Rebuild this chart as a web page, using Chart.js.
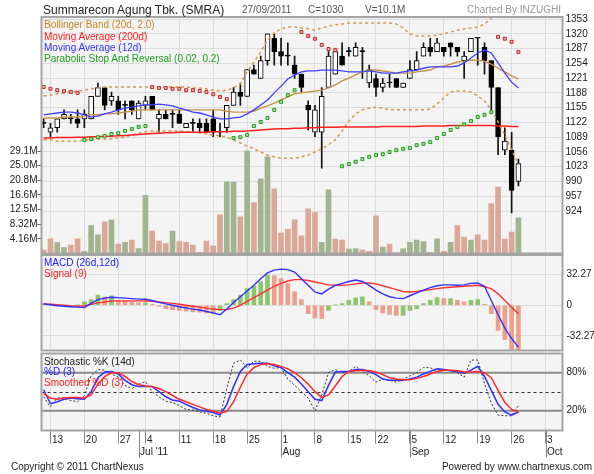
<!DOCTYPE html>
<html>
<head>
<meta charset="utf-8">
<script src="https://cdn.jsdelivr.net/npm/chart.js@4.4.1/dist/chart.umd.min.js"></script>
<style>
body { margin: 0; background: #fff; font-family: 'Liberation Sans', Arial, sans-serif; }
#wrap { position: relative; width: 594px; height: 474px; overflow: hidden; }
canvas { position: absolute; left: 0; }
.t { position: absolute; white-space: nowrap; font-size: 10px; line-height: 12px; }
</style>
</head>
<body>
<div id="wrap">
  <canvas id="cPrice" width="594" height="266" style="top:0px"></canvas>
  <canvas id="cMacd" width="594" height="120" style="top:243px"></canvas>
  <canvas id="cStoch" width="594" height="133" style="top:341px"></canvas>

  <div class="t" style="left:43px;top:2px;font-size:12px;line-height:16px;color:#222">Summarecon Agung Tbk. (SMRA)</div>
  <div class="t" style="left:242px;top:4px;color:#555">27/09/2011</div>
  <div class="t" style="left:308px;top:4px;color:#555">C=1030</div>
  <div class="t" style="left:365px;top:4px;color:#555">V=10.1M</div>
  <div class="t" style="left:467px;top:4px;color:#999">Charted By INZUGHI</div>

  <div class="t" style="left:44px;top:19px;color:#c8862a">Bollinger Band (20d, 2.0)</div>
  <div class="t" style="left:44px;top:30.5px;color:#ff2020">Moving Average (200d)</div>
  <div class="t" style="left:44px;top:41.5px;color:#3535ff">Moving Average (12d)</div>
  <div class="t" style="left:44px;top:53px;color:#1e9e1e">Parabolic Stop And Reversal (0.02, 0.2)</div>

  <div class="t" style="left:44px;top:257.3px;color:#2020ff">MACD (26d,12d)</div>
  <div class="t" style="left:44px;top:268px;color:#ff2020">Signal (9)</div>

  <div class="t" style="left:44px;top:355.7px;color:#222">Stochastic %K (14d)</div>
  <div class="t" style="left:44px;top:366.3px;color:#2020ff">%D (3)</div>
  <div class="t" style="left:44px;top:377.3px;color:#ff2020">Smoothed %D (3)</div>

  <div class="t" style="left:11px;top:461px;color:#222">Copyright &copy; 2011 ChartNexus</div>
  <div class="t" style="right:2px;top:461px;color:#222">Powered by www.chartnexus.com</div>
</div>

<script>
// trading days shown (Jun 10 .. Sep 27, 2011)
const days = [
  '2011-06-10','2011-06-13','2011-06-14','2011-06-15','2011-06-16','2011-06-17','2011-06-20','2011-06-21','2011-06-22','2011-06-23',
  '2011-06-24','2011-06-27','2011-06-28','2011-06-30','2011-07-01','2011-07-04','2011-07-05','2011-07-06','2011-07-07','2011-07-08',
  '2011-07-11','2011-07-12','2011-07-13','2011-07-14','2011-07-15','2011-07-18','2011-07-19','2011-07-20','2011-07-21','2011-07-22',
  '2011-07-25','2011-07-26','2011-07-27','2011-07-28','2011-07-29','2011-08-01','2011-08-02','2011-08-03','2011-08-04','2011-08-05',
  '2011-08-08','2011-08-09','2011-08-10','2011-08-11','2011-08-12','2011-08-15','2011-08-16','2011-08-18','2011-08-19','2011-08-22',
  '2011-08-23','2011-08-24','2011-08-25','2011-08-26','2011-09-05','2011-09-06','2011-09-07','2011-09-08','2011-09-09','2011-09-12',
  '2011-09-13','2011-09-14','2011-09-15','2011-09-16','2011-09-19','2011-09-20','2011-09-21','2011-09-22','2011-09-23','2011-09-26',
  '2011-09-27'
];

const open = [1120,1100,1110,1130,1130,1130,1130,1130,1180,1200, 1170,1170,1160,1170,1130,1160,1180,1130,1140,1140,
  1140,1110,1120,1120,1120,1130,1100,1110,1160,1190, 1180,1240,1220,1260,1310,1280,1270,1250,1230,1160,
  1100,1100,1200,1230,1270,1280,1270,1280,1210,1220, 1200,1210,1220,1200,1220,1240,1270,1290,1280,1290,
  1300,1290,1260,1280,1310,1290,1260,1200,1060,1060, 990];
const high = [1130,1120,1130,1150,1140,1150,1150,1180,1210,1200, 1190,1180,1170,1170,1170,1180,1180,1150,1150,1150,
  1150,1120,1130,1130,1130,1150,1120,1160,1200,1210, 1240,1250,1270,1320,1320,1310,1300,1270,1230,1170,
  1160,1200,1280,1280,1300,1290,1300,1290,1250,1230, 1220,1230,1220,1210,1260,1280,1300,1310,1310,1290,
  1300,1290,1280,1310,1310,1300,1260,1200,1110,1100, 1040];
const low = [1110,1090,1100,1130,1120,1110,1110,1130,1180,1150, 1160,1140,1130,1140,1130,1150,1150,1100,1130,1110,
  1120,1110,1100,1100,1100,1090,1090,1100,1160,1160, 1180,1230,1220,1250,1250,1250,1250,1220,1190,1105,
  1090,1020,1200,1230,1250,1270,1270,1220,1200,1180, 1190,1200,1200,1200,1220,1240,1270,1270,1280,1270,
  1270,1270,1220,1280,1250,1230,1150,1050,1050,920, 980];
const close = [1120,1110,1130,1140,1130,1120,1140,1180,1200,1160, 1180,1150,1160,1150,1165,1170,1150,1140,1130,1140,
  1120,1120,1120,1110,1100,1100,1100,1160,1190,1180, 1240,1230,1260,1320,1280,1270,1270,1230,1200,1150,
  1150,1180,1270,1280,1250,1280,1290,1280,1240,1200, 1210,1210,1200,1210,1240,1260,1290,1280,1300,1280,
  1290,1280,1270,1310,1310,1260,1200,1090,1080,970, 1030];

// volume in millions, 1 = green bar
const volume = [1.05,4.2,3.1,1.7,2.4,4.2,0.6,7.9,5.3,9.0, 9.5,2.7,3.2,3.8,1.4,16.5,6.4,3.5,2.8,6.4,
  3.4,3.2,2.4,0.3,3.5,2.2,11.0,20.4,20.3,10.4, 29.2,14.5,21.2,27.5,18.4,5.8,6.9,9.6,5.0,12.7,
  11.6,3.2,18.1,4.1,3.8,1.25,1.4,1.05,0.6,10.7, 1.8,2.7,0.2,1.3,3.2,3.8,3.4,0.3,4.2,0.6,
  3.2,7.9,4.7,3.8,5.3,3.8,14.2,18.9,4.1,6.1, 10.1];
const volUp = [0,0,1,1,0,0,1,1,1,0, 1,0,1,0,1,1,0,0,0,1, 0,0,0,0,0,0,0,1,1,0, 1,0,1,1,0,0,0,0,0,0,
  0,1,1,0,0,1,1,0,0,0, 1,0,0,1,1,1,1,0,1,0, 1,0,0,1,0,0,0,0,0,0, 1];

const bbUpper = [1181,1183,1186,1188,1190,1192,1194,1197,1199,1201, 1201,1201,1201,1201,1201,1201,1201,1201,1201,1201,
  1201,1201,1199,1199,1197,1194,1192,1194,1199,1208, 1235,1257,1279,1306,1322,1331,1335,1335,1333,1331,
  1328,1333,1337,1340,1342,1344,1344,1344,1344,1344, 1344,1344,1342,1333,1320,1315,1315,1315,1317,1320,
  1324,1328,1331,1333,1335,1342,1355,1375,1391,1400, 1407];
const bbMiddle = [1132,1132,1132,1134,1134,1134,1136,1139,1139,1141, 1141,1143,1145,1147,1150,1150,1150,1150,1150,1150,
  1150,1150,1150,1150,1150,1150,1150,1147,1145,1145, 1145,1147,1154,1159,1165,1172,1179,1186,1188,1190,
  1192,1194,1199,1206,1215,1221,1228,1235,1239,1239, 1237,1235,1232,1232,1232,1235,1237,1239,1246,1248,
  1252,1257,1259,1261,1261,1259,1252,1243,1235,1226, 1219];
const bbLower = [1083,1083,1080,1080,1080,1080,1083,1083,1085,1085, 1085,1087,1089,1094,1098,1101,1103,1103,1103,1103,
  1103,1101,1101,1098,1096,1094,1092,1089,1083,1076, 1069,1063,1056,1049,1045,1042,1042,1042,1045,1049,
  1056,1063,1072,1083,1103,1125,1141,1150,1154,1156, 1154,1150,1150,1150,1150,1150,1150,1152,1163,1177,
  1190,1192,1192,1190,1181,1170,1150,1123,1094,1060, 1029];
const ma200 = [1087,1087,1088,1088,1088,1089,1089,1090,1090,1091, 1091,1092,1093,1094,1095,1096,1097,1098,1099,1099,
  1100,1100,1100,1100,1100,1101,1101,1101,1102,1102, 1103,1104,1105,1106,1107,1108,1108,1109,1109,1110,
  1110,1111,1111,1111,1112,1112,1112,1112,1112,1112, 1113,1113,1113,1113,1113,1113,1114,1114,1114,1114,
  1115,1115,1115,1115,1115,1115,1115,1114,1114,1113, 1113];
const ma12 = [1139,1141,1143,1145,1145,1143,1139,1134,1136,1141, 1145,1150,1154,1156,1159,1161,1161,1163,1161,1159,
  1154,1150,1145,1143,1139,1134,1130,1130,1132,1134, 1141,1150,1161,1172,1188,1203,1219,1228,1235,1237,
  1237,1239,1239,1239,1237,1235,1235,1235,1237,1235, 1232,1232,1232,1235,1237,1239,1243,1246,1246,1246,
  1246,1248,1255,1266,1277,1284,1277,1255,1232,1212, 1199];
const sar = [1201,1197,1194,1192,1190,1188, 1083,1085,1089,1092,1096,1098,1103,1107,1112,1114,
  1201,1199,1199,1197,1197,1194,1194,1192,1190,1185,1179,1174,
  1087,1089,1094,1114,1123,1132,1150,1168,1183,1194,
  1324,1315,1309,1295,1286,1284,
  1024,1029,1034,1040,1045,1049,1051,1056,1060,1063,1065,1071,1074,1078,1087,1096,1105,1112,1118,1125,1134,1139,1145,
  1313,1309,1302,1279];

const macd = [1.5,0.5,-0.5,-1,-1.5,-2,-2.5,2,6,7.5, 8.5,8,7.5,7,6.5,6.3,5,3,1.5,0,
  -1.5,-2.8,-4,-5,-6.5,-8,-9.9,-4,3,9, 15,21,28,34,37,38,37.5,35,28,21,
  14,12,17,21,23,25,26.5,25,21,16, 12,9,7.5,7,10,13,16,18.5,20.5,21.5,
  21.5,21,21.5,23,23.5,20,5,-10,-24,-35, -44];
const signal = [1.5,1,0.5,0,-0.5,-0.7,-0.7,1,2.5,3.5, 4.5,4.6,4.6,4.6,4.6,4.5,4.2,3.5,2.8,2,
  1,0,-1,-2,-3,-4,-4.6,-4.5,-3,0, 4,8,12,16,20,23,25.5,27,27,26,
  24.5,23,21.5,21,21,21.5,22.5,23.5,23.5,22.5, 20.5,18.5,16.5,14.5,14,14.5,15.5,16.5,17.5,18.5,
  19,19.5,20,20.5,21,19.5,17.5,12,5,-2, -9];
const hist = [1.8,0.5,-0.5,-0.7,-0.5,0.3,3.5,6,10.6,8.8, 9.9,5.3,4.6,3.5,2.5,2.5,1.1,-1.1,-3.5,-4.6,
  -5.3,-6.3,-7,-7.2,-8.1,-8.8,-5.3,1.8,6,10.6, 17.6,20.1,24.7,31.7,31,28.2,22.9,14.1,6,-8.8,
  -13.4,-14.1,-5.3,0.3,1.8,5.3,7.8,8.8,3.5,-4.6, -8.1,-9.5,-10.6,-10.6,-5.3,-3.5,1.8,5.3,8.1,7,
  7,5.3,3.5,5.3,6,1.1,-8.8,-26.5,-36.3,-50, -52];

const stochK = [42,26,40,40,36,34,44,75,85,84, 78,73,60,55,62,66,50,42,35,33,
  28,22,21,18,16,12,10,55,95,100, 88,98,98,90,87,88,70,60,50,40,
  20,45,80,85,80,82,90,82,75,65, 70,68,65,70,75,80,88,88,82,85,
  83,80,73,100,100,63,32,13,12,12, 28];
const stochD = [53,31,34,38,40,39,38,50,72,81, 82,78,68,61,58,58,58,50,42,37,
  35,30,25,21,19,17,13,30,58,82, 93,94,95,95,91,88,80,73,62,50,
  38,36,60,81,82,82,85,85,82,77, 70,68,68,68,70,73,78,82,86,85,
  83,82,79,84,90,74,52,30,18,13, 18];
const stochSD = [47,40,38,40,41,41,40,45,62,74, 80,80,74,66,61,59,58,55,50,44,
  38,34,30,26,22,19,16,19,34,57, 78,88,93,94,93,90,86,80,72,62,
  50,41,45,59,74,82,83,84,83,81, 77,72,70,69,69,71,74,78,82,84,
  84,83,81,81,82,80,72,52,33,22, 18];

// axis ticks
const weekTicks = [1, 6, 11, 15, 20, 25, 30, 35, 40, 45, 49, 54, 59, 64, 69, 74];
const weekLabels = ['13','20','27','4','11','18','25','1','8','15','22','5','12','19','26','3'];
const monthTicks = [14, 35, 54, 74];
const monthLabels = ["Jul '11", 'Aug', 'Sep', 'Oct'];
const priceTicks = [924, 957, 990, 1023, 1056, 1089, 1122, 1155, 1188, 1221, 1254, 1287, 1320, 1353];
const volTicks = [4.16, 8.32, 12.48, 16.64, 20.8, 24.96, 29.12];
const volTickLabels = ['4.16M', '8.32M', '12.5M', '16.6M', '20.8M', '25.0M', '29.1M'];
const macdTicks = [-32.27, 0, 32.27];
const macdTickLabels = ['-32.27', '0', '32.27'];
const stochTicks = [20, 80];
const stochTickLabels = ['20%', '80%'];

Chart.defaults.font.family = "'Liberation Sans', Arial, sans-serif";
Chart.defaults.font.size = 10;
Chart.defaults.color = '#222';
Chart.defaults.animation = false;
Chart.defaults.plugins.legend.display = false;
Chart.defaults.plugins.tooltip.enabled = false;

const pts = arr => arr.map((v, i) => ({ x: i, y: v }));
const line = (arr, color, width, extra) => Object.assign({
  type: 'line', data: pts(arr), borderColor: color, borderWidth: width,
  pointRadius: 0, fill: false, tension: 0
}, extra || {});

const panel = {
  id: 'panel',
  beforeDraw(chart) {
    const a = chart.chartArea, c = chart.ctx;
    c.save();
    c.fillStyle = '#f4f4f4';
    c.fillRect(a.left, a.top, a.right - a.left, a.bottom - a.top);
    c.restore();
  },
  afterDraw(chart) {
    const a = chart.chartArea, c = chart.ctx;
    c.save();
    c.strokeStyle = '#a4a4a4';
    c.lineWidth = 2;
    c.strokeRect(a.left, a.top, a.right - a.left, a.bottom - a.top);
    c.restore();
  }
};

function xAxis() {
  return {
    type: 'linear', min: -0.32, max: 76.5, offset: false,
    afterBuildTicks: s => { s.ticks = weekTicks.map(v => ({ value: v })); },
    ticks: { display: false },
    grid: { color: '#dcdcdc', drawTicks: false, offset: false },
    border: { display: false },
    afterFit: s => { s.height = 0; }
  };
}

// price + volume
new Chart(document.getElementById('cPrice'), {
  type: 'line',
  data: {
    datasets: [
      Object.assign(line(sar, '#000', 0), {
        showLine: false, yAxisID: 'yp', order: 1,
        pointStyle: 'rect', pointRadius: 2.1, pointBorderWidth: 1,
        pointBorderColor: sar.map((s, i) => s > close[i] ? '#c02828' : '#1e9e1e'),
        pointBackgroundColor: sar.map((s, i) => s > close[i] ? '#f0b0b0' : '#a8e098')
      }),
      line(ma12, '#4040ff', 1.3, { yAxisID: 'yp', order: 2 }),
      line(ma200, '#ff2020', 1.5, { yAxisID: 'yp', order: 3 }),
      line(bbMiddle, '#c8924a', 1.4, { yAxisID: 'yp', order: 4 }),
      line(bbUpper, '#d29a4e', 1.5, { yAxisID: 'yp', order: 4, borderDash: [3, 3] }),
      line(bbLower, '#d29a4e', 1.5, { yAxisID: 'yp', order: 4, borderDash: [3, 3] }),
      {
        type: 'bar', yAxisID: 'yp', order: 6, grouped: false,
        data: open.map((o, i) => ({ x: i, y: [o, close[i]] })),
        backgroundColor: open.map((o, i) => close[i] > o ? '#ffffff' : '#000000'),
        borderColor: '#000', borderWidth: 1, borderSkipped: false,
        barThickness: 5, minBarLength: 1
      },
      {
        type: 'bar', yAxisID: 'yp', order: 7, grouped: false,
        data: low.map((l, i) => ({ x: i, y: [l, high[i]] })),
        backgroundColor: '#111', barThickness: 1
      },
      {
        type: 'bar', yAxisID: 'yv', order: 9, grouped: false,
        data: pts(volume),
        backgroundColor: volUp.map(u => u ? '#9fb48f' : '#dba796'),
        barThickness: 5
      }
    ]
  },
  options: {
    responsive: false, devicePixelRatio: 1, events: [],
    layout: { padding: { top: 17, bottom: 12.5, left: 0, right: 0 } },
    scales: {
      x: xAxis(),
      yp: {
        type: 'linear', position: 'right', min: 829.1, max: 1357.5,
        afterBuildTicks: s => { s.ticks = priceTicks.map(v => ({ value: v })); },
        ticks: { padding: 3, color: '#222', callback: v => String(v) },
        grid: { color: '#dcdcdc', drawTicks: false },
        border: { display: false },
        afterFit: s => { s.width = 31.5; }
      },
      yv: {
        type: 'linear', position: 'left', min: 0, max: 67.2,
        afterBuildTicks: s => { s.ticks = volTicks.map(v => ({ value: v })); },
        ticks: { padding: 0, color: '#222', callback: (v, i) => volTickLabels[i] },
        grid: { drawOnChartArea: false, drawTicks: true, tickLength: 4, tickColor: '#666' },
        border: { display: false },
        afterFit: s => { s.width = 41.5; }
      }
    }
  },
  plugins: [panel]
});

// MACD
new Chart(document.getElementById('cMacd'), {
  type: 'line',
  data: {
    datasets: [
      line(macd, '#3030ff', 1.4, { order: 1 }),
      line(signal, '#ff3030', 1.4, { order: 2 }),
      {
        type: 'bar', order: 5, grouped: false, data: pts(hist),
        backgroundColor: hist.map((h, i) => (i === 0 || h >= hist[i - 1]) ? '#8cc56e' : '#eba08c'),
        barThickness: 4
      }
    ]
  },
  options: {
    responsive: false, devicePixelRatio: 1, events: [],
    layout: { padding: { top: 12, bottom: 12.5, left: 41.5, right: 0 } },
    scales: {
      x: xAxis(),
      y: {
        type: 'linear', position: 'right', min: -47.6, max: 52.9,
        afterBuildTicks: s => { s.ticks = macdTicks.map(v => ({ value: v })); },
        ticks: { padding: 4, color: '#222', callback: (v, i) => macdTickLabels[i] },
        grid: { color: '#dcdcdc', drawTicks: false },
        border: { display: false },
        afterFit: s => { s.width = 31.5; }
      }
    }
  },
  plugins: [panel]
});

// Stochastic
const axisTicks = Array.from(new Set(weekTicks.concat(monthTicks))).sort((a, b) => a - b);
function dateLabel(v) {
  const w = weekTicks.indexOf(v), m = monthTicks.indexOf(v);
  if (m >= 0) return [w >= 0 ? weekLabels[w] : '', monthLabels[m]];
  return w >= 0 ? weekLabels[w] : '';
}
const levels = {
  id: 'levels',
  beforeDatasetsDraw(chart) {
    const y = chart.scales.y, a = chart.chartArea, c = chart.ctx;
    c.save();
    c.strokeStyle = '#8a8a8a';
    c.lineWidth = 2;
    stochTicks.forEach(v => {
      const p = y.getPixelForValue(v);
      c.beginPath(); c.moveTo(a.left, p); c.lineTo(a.right, p); c.stroke();
    });
    c.strokeStyle = '#333';
    c.lineWidth = 1;
    c.setLineDash([3, 3]);
    const m = Math.round(y.getPixelForValue(50)) + 0.5;
    c.beginPath(); c.moveTo(a.left, m); c.lineTo(a.right, m); c.stroke();
    c.restore();
  },
  afterDraw(chart) {
    const x = chart.scales.x, a = chart.chartArea, c = chart.ctx;
    c.save();
    c.strokeStyle = '#888';
    c.lineWidth = 1;
    monthTicks.forEach(v => {
      const p = Math.round(x.getPixelForValue(v)) + 0.5;
      c.beginPath(); c.moveTo(p, a.bottom); c.lineTo(p, a.bottom + 27); c.stroke();
    });
    c.restore();
  }
};

new Chart(document.getElementById('cStoch'), {
  type: 'line',
  data: {
    datasets: [
      line(stochSD, '#ff2a2a', 1.5, { order: 1 }),
      line(stochD, '#3030ff', 1.5, { order: 2 }),
      line(stochK, '#333', 1, { order: 3, borderDash: [2, 2] })
    ]
  },
  options: {
    responsive: false, devicePixelRatio: 1, events: [],
    layout: { padding: { top: 12.5, bottom: 0, left: 41.5, right: 0 } },
    scales: {
      x: {
        type: 'linear', min: -0.32, max: 76.5, offset: false,
        afterBuildTicks: s => { s.ticks = axisTicks.map(v => ({ value: v })); },
        ticks: {
          autoSkip: false, maxRotation: 0, minRotation: 0, align: 'start',
          padding: -9.5, labelOffset: 1.5, color: '#222',
          callback: v => dateLabel(v)
        },
        grid: {
          offset: false, tickLength: 13,
          color: c => (c.tick && weekTicks.includes(c.tick.value)) ? '#dcdcdc' : 'rgba(0,0,0,0)',
          tickColor: c => (c.tick && weekTicks.includes(c.tick.value)) ? '#888' : 'rgba(0,0,0,0)'
        },
        border: { display: false },
        afterFit: s => { s.height = 43.5; }
      },
      y: {
        type: 'linear', position: 'right', min: -11.3, max: 110.3,
        afterBuildTicks: s => { s.ticks = stochTicks.map(v => ({ value: v })); },
        ticks: { padding: 4, color: '#222', callback: (v, i) => stochTickLabels[i] },
        grid: { drawOnChartArea: false, drawTicks: false },
        border: { display: false },
        afterFit: s => { s.width = 31.5; }
      }
    }
  },
  plugins: [panel, levels]
});
</script>
</body>
</html>
